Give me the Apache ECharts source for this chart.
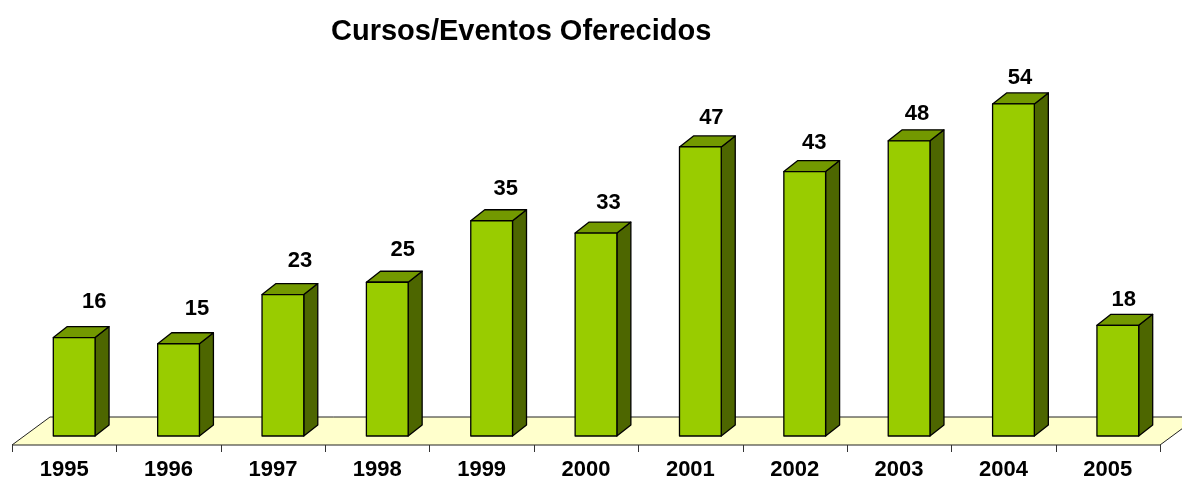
<!DOCTYPE html>
<html>
<head>
<meta charset="utf-8">
<script src="https://cdn.jsdelivr.net/npm/echarts@6/dist/echarts.min.js"></script>
<style>
  html, body { margin: 0; padding: 0; background: #fff; }
  #main { width: 1182px; height: 481px; }
</style>
</head>
<body>
<div id="main"></div>
<script>
// anos e quantidade de cursos/eventos
var years = ['1995', '1996', '1997', '1998', '1999', '2000', '2001', '2002', '2003', '2004', '2005'];
var counts = [16, 15, 23, 25, 35, 33, 47, 43, 48, 54, 18];

var FONT = '"Liberation Sans", Arial, sans-serif';
var DX = 14, DY = -11;   // profundidade da barra

var chart = echarts.init(document.getElementById('main'));

// piso amarelo + marcas do eixo
function renderFloor(params, api) {
  var cs = params.coordSys;
  var base = api.coord([0, 0])[1];
  var yf = base + 9, yb = base - 19;
  var x0 = cs.x, x1 = cs.x + cs.width;
  var step = cs.width / years.length;
  var children = [{
    type: 'polygon',
    shape: { points: [[x0, yf], [x1, yf], [x1 + 38, yb], [x0 + 38, yb]] },
    style: { fill: '#FFFFCC', stroke: '#222', lineWidth: 1 }
  }];
  for (var i = 0; i <= years.length; i++) {
    var tx = Math.round(x0 + i * step) + 0.5;
    children.push({
      type: 'line',
      shape: { x1: tx, y1: yf, x2: tx, y2: yf + 7 },
      style: { stroke: '#333', lineWidth: 1 }
    });
  }
  return { type: 'group', children: children, silent: true };
}

// barras 3d
function renderBar(params, api) {
  var idx = api.value(0);
  var top = api.coord([idx, api.value(1)]);
  var bot = api.coord([idx, 0]);
  var w = api.size([1, 0])[0] * 0.4;
  var xl = top[0] - w / 2 + 10, xr = xl + w;
  var yt = top[1], yb = bot[1];
  var line = { stroke: '#000', lineWidth: 1.3, lineJoin: 'round' };
  var lblShift = Math.max(6, 20 - 1.5 * idx);
  var lblUp = 36 - 1.1 * idx;
  return {
    type: 'group',
    children: [
      { type: 'polygon', shape: { points: [[xr, yb], [xr + DX, yb + DY], [xr + DX, yt + DY], [xr, yt]] },
        style: Object.assign({ fill: '#4D6600' }, line) },
      { type: 'polygon', shape: { points: [[xl, yt], [xr, yt], [xr + DX, yt + DY], [xl + DX, yt + DY]] },
        style: Object.assign({ fill: '#739900' }, line) },
      { type: 'rect', shape: { x: xl, y: yt, width: w, height: yb - yt },
        style: Object.assign({ fill: '#99CC00' }, line) },
      { type: 'text', x: (xl + xr) / 2 + lblShift, y: yt - lblUp,
        style: { text: String(api.value(1)), fill: '#000', font: 'bold 22px ' + FONT,
                 textAlign: 'center', textVerticalAlign: 'middle' } }
    ]
  };
}

var option = {
  animation: false,
  title: {
    text: 'Cursos/Eventos Oferecidos',
    left: 326,
    top: 12,
    textStyle: { fontFamily: FONT, fontWeight: 'bold', fontSize: 29, color: '#000' }
  },
  grid: { left: 12, right: 22, top: 67, bottom: 44 },
  xAxis: {
    type: 'category',
    data: years,
    offset: 9,
    axisLine: { show: false },
    axisTick: { show: false },
    axisLabel: { color: '#000', fontFamily: FONT, fontWeight: 'bold', fontSize: 22, margin: 14 }
  },
  yAxis: {
    type: 'value', min: 0, max: 60, show: false,
    splitLine: { show: false }
  },
  series: [
    {
      type: 'custom', renderItem: renderFloor, clip: false, z: 1,
      data: [[0, 0]], silent: true
    },
    {
      type: 'custom', renderItem: renderBar, clip: false, z: 2,
      data: counts.map(function (v, i) { return [i, v]; }),
      encode: { x: 0, y: 1 }
    }
  ]
};
chart.setOption(option);
</script>
</body>
</html>
